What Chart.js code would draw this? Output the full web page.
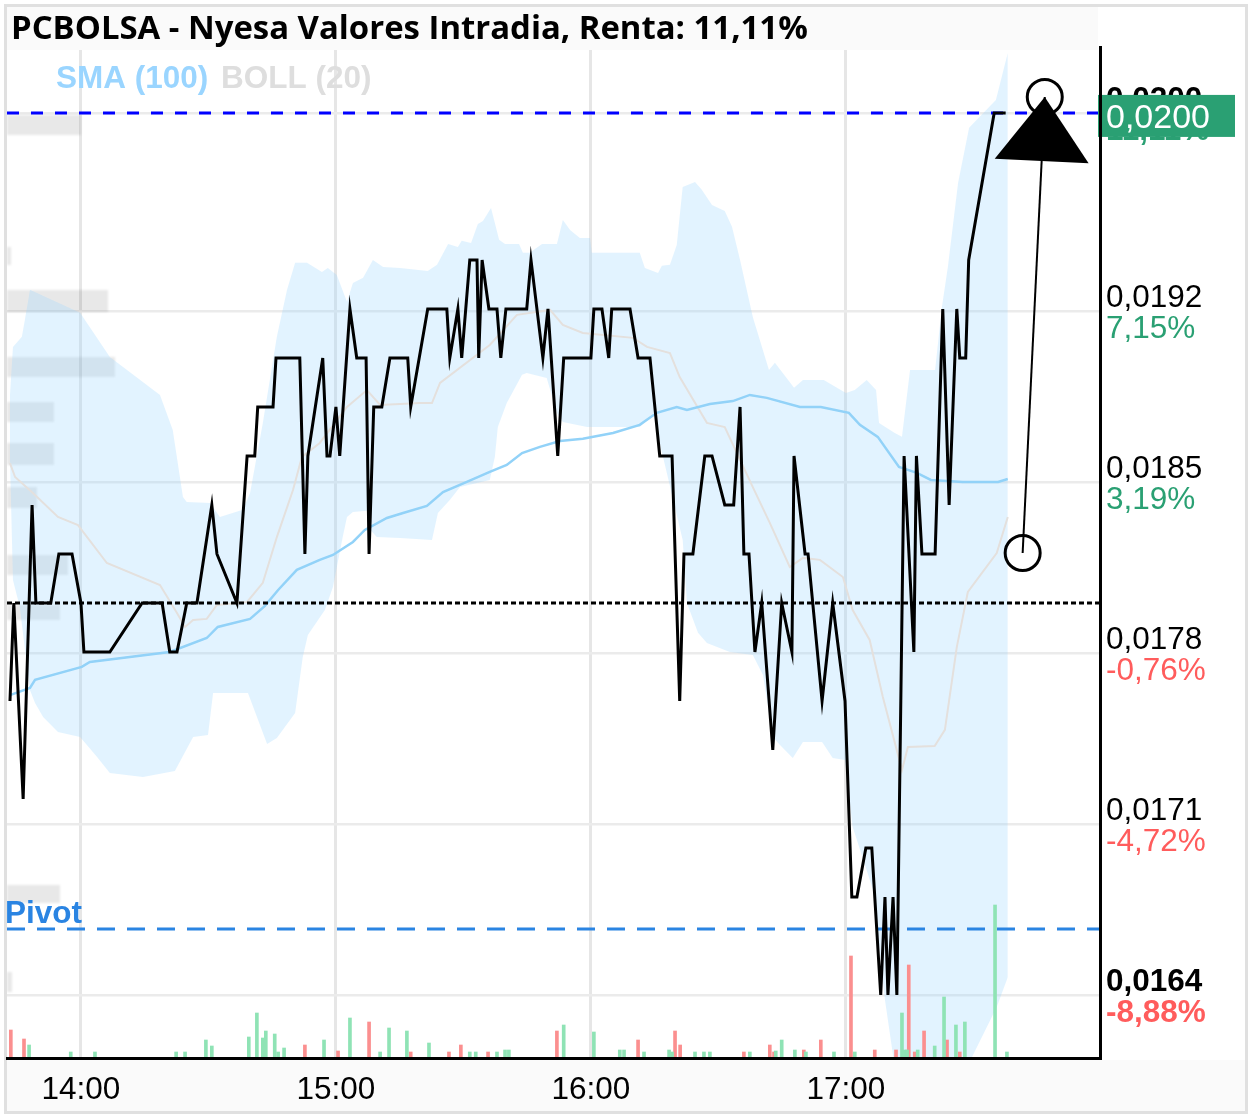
<!DOCTYPE html>
<html>
<head>
<meta charset="utf-8">
<title>PCBOLSA</title>
<script src="https://cdn.jsdelivr.net/npm/chart.js@4/dist/chart.umd.js"></script>
<style>
  body { margin: 0; background: #fff; }
  canvas { display: block; }
</style>
</head>
<body>
<canvas id="my-chart" width="1253" height="1118"></canvas>
<script>
// times are minutes after midnight (840 = 14:00)
const priceTimes = [823.3,824.2,826.4,828.5,829.4,832.9,834.8,837.9,840,840.7,846.8,854.4,859.1,860.9,862.6,864.9,867.3,870.8,872,876.7,879.1,880.9,881.6,885.2,885.9,891.5,892.7,893.4,896.9,897.9,898.6,900,900.9,903.3,904.9,907.1,907.8,908.9,910.8,912.7,916.9,917.6,921.6,926.1,926.8,928.7,929.6,931.5,933.2,933.6,934.4,936,937.9,938.8,940,944.9,945.9,948.7,949.9,952.2,953.6,960,960.7,962.6,964.2,964.9,969.2,971.1,973.9,976.2,979.1,980.9,981.9,984,986.8,988.5,991.5,993.6,995.1,996,997.2,998.6,1000.2,1002.8,1004.9,1007.3,1007.8,1010.4,1011.1,1014.4,1016.9,1019.8,1021.4,1022.6,1024.7,1026.1,1028.2,1029.2,1029.9,1031.1,1032,1033.7,1036,1036.6,1037.9,1041,1042.8,1044.3,1046.1,1046.8,1048.2,1048.9,1054.9,1057.6];
const prices = [.0176,.018,.0172,.0184,.018,.018,.0182,.0182,.018,.0178,.0178,.018,.018,.0178,.0178,.018,.018,.0184,.0182,.018,.0186,.0186,.0188,.0188,.019,.019,.0182,.0186,.019,.0186,.0186,.0188,.0186,.0192,.019,.019,.0182,.0188,.0188,.019,.019,.0188,.0192,.0192,.019,.0192,.019,.0194,.0194,.019,.0194,.0192,.0192,.019,.0192,.0192,.0194,.019,.0192,.0186,.019,.019,.0192,.0192,.019,.0192,.0192,.019,.019,.0186,.0186,.0176,.0182,.0182,.0186,.0186,.0184,.0184,.0188,.0182,.0182,.0178,.018,.0174,.018,.0178,.0186,.0182,.0182,.0176,.018,.0176,.0168,.0168,.017,.017,.0164,.0168,.0164,.0168,.0164,.0186,.0178,.0186,.0182,.0182,.0192,.0184,.0192,.019,.019,.0194,.02,.02];

const smaTimes = [823.3,828,829.2,840.2,842.1,860.9,869.6,872.2,879.8,883.3,886.4,890.8,896.2,899.3,904,906.8,912,915.8,921.4,925.2,930.8,936.2,940.2,943.8,948,952.7,958.1,965.2,971.5,975.5,980.2,982.6,988,993.4,997.4,1001.4,1009.2,1014.1,1020.7,1023.3,1027.5,1032.5,1036.7,1040,1047.5,1055.8,1058.1];
const smaValues = [.017624,.017653,.017686,.017739,.017759,.0178,.017857,.017902,.017935,.017988,.018053,.018135,.018176,.018196,.018249,.018298,.018347,.018367,.018396,.018453,.018494,.018535,.018563,.018612,.018637,.018661,.01867,.018694,.018727,.018776,.0188,.018788,.018812,.018824,.018849,.018837,.0188,.0188,.018776,.018727,.018678,.018555,.018531,.018502,.018494,.018494,.018506];

const bollTimes = [823.3,824.5,828.7,834.6,839.3,846.1,858.6,862.6,864.5,866.4,869.6,872,879.1,882.8,886.1,889.9,892,896.2,902.6,907.3,910.4,919.8,922.6,924.5,936.2,942.6,950.4,953.4,958.1,969.9,973.2,978.6,980.9,987.3,991.5,998.1,1002.1,1006.8,1009.9,1013.9,1019.3,1021.6,1025.6,1028.7,1033.2,1034.6,1040.9,1043.3,1046.1,1048.7,1055.5,1058.1];
const bollMid = [.018571,.018514,.018449,.018351,.018318,.018163,.018073,.017959,.017902,.017931,.017935,.017992,.018004,.018082,.018269,.018461,.018596,.018653,.0188,.018869,.018808,.018816,.018816,.018898,.019053,.019176,.019196,.019135,.019102,.019082,.019045,.01902,.018922,.018735,.018718,.018473,.018327,.018147,.018184,.018176,.018106,.017971,.017849,.017616,.017318,.017412,.017416,.017482,.01782,.018045,.018204,.018351];

const upperTimes = [823.3,824,826.1,826.8,828,839.8,846.8,858.6,861.6,864,864.9,870.4,872.7,878.1,879.8,882.8,886.1,888.5,890.4,893.2,896.7,898.1,900.2,902.6,904,906.4,908.7,911.1,915.1,921.6,923.8,926.4,928.7,929.6,931.8,933.4,934.6,936.5,937.4,938.4,939.8,943.1,944,945.6,948.5,952,953.4,955.1,957.4,959.8,960.2,971.5,972.7,975.8,976.7,978.6,980.2,981.6,984.5,986.1,988.5,991.5,993.2,995.1,998.1,1001.9,1003.3,1007.8,1009.9,1014.8,1020,1022.1,1024.9,1027.1,1027.8,1031.5,1033.2,1035.1,1041,1042.6,1044,1046.4,1049,1055.3,1058.1];
const upperBand = [.018849,.019045,.019086,.019155,.019278,.019184,.019004,.018849,.018706,.018433,.018412,.018408,.018351,.01838,.018449,.018735,.019086,.019278,.019388,.019388,.019351,.019367,.019339,.019229,.019306,.019327,.0194,.019371,.019367,.019355,.01938,.019465,.019453,.019478,.019469,.019547,.019559,.019612,.019551,.019482,.019465,.019465,.019429,.019429,.019465,.019465,.019563,.019522,.01949,.01949,.019429,.019429,.019367,.019347,.019376,.01938,.019461,.019698,.019718,.019686,.019624,.0196,.019535,.0194,.019167,.018951,.01898,.018878,.01891,.01891,.018857,.018869,.01891,.018869,.018735,.018694,.018678,.018951,.018951,.019208,.019371,.019714,.019939,.020053,.020245];

const lowerTimes = [823.3,824,825.6,828,829.2,831.1,834.6,839.8,843.8,846.8,854.6,862.1,866.4,869.9,871.1,879.3,883.8,886.1,890.4,892.2,893.4,897.4,899.3,901.6,902.6,904,907.3,907.5,909.6,915.1,922.6,924,926.8,929.2,936.2,937.4,938.1,940.2,943.8,944.9,949.6,952,953.4,959.1,971.5,975.5,976.2,981.6,982.6,985.2,987.3,992.7,998.1,1000.5,1002.8,1004.5,1007.5,1009.9,1014.4,1016.9,1019.8,1021.6,1026.4,1029.2,1031.3,1049.2,1055.5,1058.1];
const lowerBand = [.018584,.018094,.017984,.017645,.017592,.017535,.017473,.017453,.017371,.017306,.01729,.017314,.017453,.017461,.017633,.017633,.017424,.017449,.017551,.01778,.017869,.017971,.018065,.018269,.018351,.018371,.018376,.01831,.018269,.018265,.018257,.018367,.01842,.018473,.018502,.018596,.018718,.018816,.018931,.018939,.018918,.018776,.018739,.018718,.018718,.018788,.018653,.018257,.018,.017878,.017837,.0178,.017788,.017706,.017453,.01742,.017367,.017433,.017433,.017367,.017359,.017086,.016829,.01638,.01613,.01613,.016351,.016473];

const volUpTimes = [827.8,837.6,843.3,862.4,864.5,869.4,870.8,879.5,881.4,882.8,883.5,885.6,886.4,887.8,897.2,903.3,910.4,912.5,916.7,921.9,931.5,932.9,937.9,939.8,940.7,953.6,960.7,966.8,967.8,972.5,978.4,979.1,984.5,986.6,988,997.4,1003.5,1004.9,1008,1010.6,1017.2,1022.1,1033.2,1033.9,1034.4,1036.9,1040.9,1043.1,1045.9,1048,1055.1,1057.9];
const volUp = [13,6,6,6,6,18,12,21,45,20,27,24,6,10,18,40,6,30,27,15,6,6,6,8,8,33,26,8,8,6,8,6,6,6,6,6,7,18,8,6,6,6,45,8,8,8,12,61,33,36,153,6];
const volDownTimes = [823.5,826.6,892.7,900.5,907.8,917.6,926.6,929.4,935.8,952,971.1,979.8,981,996,1002.1,1003.1,1010.1,1014.1,1021.2,1026.8,1031.8,1034.8,1036.2,1038.4,1043.8,1046.8];
const volDown = [28,19,13,7,36,6,6,13,6,27,18,27,13,6,13,6,8,18,102,8,8,93,6,27,18,6];

const xTicks = [840, 900, 960, 1020];
const yTicks = [.0164, .017098, .017796, .018494, .019192, .02];
const yLabels = ['0,0164', '0,0171', '0,0178', '0,0185', '0,0192', '0,0200'];
const pctLabels = ['-8,88%', '-4,72%', '-0,76%', '3,19%', '7,15%', '11,11%'];

const lastPrice = .02;
const prevClose = .018;
const pivot = .016669;
const arrowTimes = [1061.6, 1066.8];
const arrowPrices = [.018204, .020065];

const xMin = 822.6, xMax = 1079.8;
const yMin = .016143, yMax = .020269;
const green = '#2aa073', red = '#ff5c5c';
const sans = '"Liberation Sans", Arial, sans-serif';

const pts = (ts, vs) => ts.map((t, i) => ({ x: t, y: vs[i] }));
const hline = v => [{ x: xMin, y: v }, { x: xMax, y: v }];
const lineSet = (data, color, width, order, extra) => Object.assign({
  type: 'line', data, borderColor: color, borderWidth: width, pointRadius: 0, order, fill: false
}, extra);

// smudges on the left edge of the original, not data
const smudges = [[7,115,74,20],[7,247,4,18],[7,290,101,22],[7,357,108,20],[7,402,47,20],[7,443,47,22],[7,487,30,21],[7,555,61,20],[7,605,53,15],[7,885,53,18],[7,972,5,20]];

const decorations = {
  id: 'decorations',
  beforeDraw(chart) {
    const c = chart.ctx;
    c.fillStyle = '#fafafa';
    c.fillRect(7, 7, 1091, 40);
    c.fillRect(7, 1060, 1239, 52);
  },
  beforeDatasetsDraw(chart) {
    const c = chart.ctx;
    c.save();
    c.filter = 'blur(1px)';
    c.fillStyle = 'rgba(0,0,0,.09)';
    smudges.forEach(r => c.fillRect(r[0], r[1], r[2], r[3]));
    c.restore();
    c.font = 'bold 31.5px ' + sans;
    c.textBaseline = 'middle';
    c.fillStyle = '#9ad5ff';
    c.fillText('SMA (100)', 56, 79);
    c.fillStyle = '#dedede';
    c.fillText('BOLL (20)', 221, 79);
  },
  afterDatasetsDraw(chart) {
    const c = chart.ctx, x = chart.scales.x, y = chart.scales.y;
    c.save();
    // rest of the title band, over the grid, and outer frame
    c.fillStyle = '#fafafa';
    c.fillRect(7, 47, 1091, 3);
    c.strokeStyle = '#e0e0e0';
    c.lineWidth = 3;
    c.strokeRect(5.5, 5.5, 1241, 1107);
    // pivot label
    c.font = 'bold 31.5px ' + sans;
    c.textBaseline = 'middle';
    c.fillStyle = '#2a84e2';
    c.fillText('Pivot', 5, y.getPixelForValue(pivot) - 15);
    // arrow head, pointing along the arrow line
    const x0 = x.getPixelForValue(arrowTimes[0]), y0 = y.getPixelForValue(arrowPrices[0]);
    const x1 = x.getPixelForValue(arrowTimes[1]), y1 = y.getPixelForValue(arrowPrices[1]);
    const a = Math.atan2(y1 - y0, x1 - x0);
    const bx = x1 - Math.cos(a) * 64, by = y1 - Math.sin(a) * 64;
    const nx = -Math.sin(a) * 47, ny = Math.cos(a) * 47;
    c.fillStyle = '#000';
    c.beginPath();
    c.moveTo(x1, y1);
    c.lineTo(bx + nx, by + ny);
    c.lineTo(bx - nx, by - ny);
    c.closePath();
    c.fill();
    // last price flag
    const py = y.getPixelForValue(lastPrice);
    c.fillStyle = green;
    c.fillRect(1098, py - 18, 137, 42);
    c.font = '34px ' + sans;
    c.fillStyle = '#fff';
    c.fillText('0,0200', 1106, py + 6);
    c.restore();
  },
  afterLayout(chart) {
    chart.titleBlock.left = 11;
    // twin axis has no width of its own, its labels are clipped to this
    chart.scales.y2.right = 1253;
  }
};

const ctx = document.getElementById('my-chart').getContext('2d');
const chart = new Chart(ctx, {
  type: 'line',
  data: {
    datasets: [
      lineSet(pts(upperTimes, upperBand), 'transparent', 0, 9, { fill: '+1', backgroundColor: 'rgba(150,212,255,.28)' }),
      lineSet(pts(lowerTimes, lowerBand), 'transparent', 0, 9),
      lineSet(pts(bollTimes, bollMid), '#e4e0dd', 2, 8),
      { type: 'bar', data: pts(volUpTimes, volUp), yAxisID: 'yVol', backgroundColor: '#8fe3b5', barThickness: 3, grouped: false, order: 7 },
      { type: 'bar', data: pts(volDownTimes, volDown), yAxisID: 'yVol', backgroundColor: '#fb8f8f', barThickness: 3, grouped: false, order: 7 },
      lineSet(pts(smaTimes, smaValues), '#92d2f8', 2.5, 6),
      lineSet(hline(pivot), '#2a84e2', 3, 5, { borderDash: [18, 12] }),
      lineSet(hline(lastPrice), '#0000ff', 3, 5, { borderDash: [12, 12] }),
      lineSet(hline(prevClose), '#000', 3, 5, { borderDash: [5, 3] }),
      lineSet(pts(priceTimes, prices), '#000', 3, 4),
      lineSet(pts(arrowTimes, arrowPrices), '#000', 2, 1, {
        pointRadius: 17.5, pointBorderWidth: 3, pointBorderColor: '#000', pointBackgroundColor: 'transparent'
      })
    ]
  },
  plugins: [decorations],
  options: {
    responsive: false,
    devicePixelRatio: 1,
    animation: false,
    events: [],
    layout: { padding: { left: 7, top: 0, right: 0, bottom: 0 }, autoPadding: false },
    plugins: {
      legend: { display: false },
      tooltip: { enabled: false },
      title: {
        display: true,
        text: 'PCBOLSA - Nyesa Valores Intradia, Renta: 11,11%',
        align: 'start',
        color: '#000',
        padding: { top: 13, bottom: 0 },
        font: { family: '"Open Sans"', size: 32.9, weight: '700', lineHeight: '34px' }
      }
    },
    scales: {
      x: {
        type: 'linear',
        min: xMin,
        max: xMax,
        offset: false,
        afterBuildTicks: s => { s.ticks = xTicks.map(v => ({ value: v })); },
        afterFit: s => { s.height = 60; },
        grid: { offset: false, color: '#e6e6e6', lineWidth: 3, drawTicks: false },
        border: { color: '#000', width: 3, z: 1 },
        ticks: {
          autoSkip: false,
          maxRotation: 0,
          padding: 13,
          color: '#000',
          font: { family: sans, size: 31.5 },
          callback: v => Math.floor(v / 60) + ':00'
        }
      },
      y: {
        position: 'right',
        weight: 1,
        min: yMin,
        max: yMax,
        afterBuildTicks: s => { s.ticks = yTicks.map(v => ({ value: v })); },
        afterFit: s => { s.width = 153; },
        grid: { color: '#ebebeb', lineWidth: 2.5, drawTicks: false },
        border: { color: '#000', width: 3, z: 1 },
        ticks: {
          autoSkip: false,
          padding: 6,
          labelOffset: 3,
          color: '#000',
          font: c => ({ family: sans, size: 31.5, lineHeight: '31px',
            weight: (c.index === 0 || c.index === 5) ? 'bold' : 'normal' }),
          callback: (v, i) => [yLabels[i], '']
        }
      },
      // percent under each price, on a twin axis so it can have its own colour
      y2: {
        position: 'right',
        weight: 0,
        min: yMin,
        max: yMax,
        afterBuildTicks: s => { s.ticks = yTicks.map(v => ({ value: v })); },
        afterFit: s => { s.width = 0; },
        grid: { display: false, drawTicks: false },
        border: { display: false },
        ticks: {
          autoSkip: false,
          padding: 6,
          labelOffset: 3,
          color: c => c.index < 3 ? red : green,
          font: c => ({ family: sans, size: 31.5, lineHeight: '31px',
            weight: (c.index === 0 || c.index === 5) ? 'bold' : 'normal' }),
          callback: (v, i) => ['', pctLabels[i]]
        }
      },
      yVol: { display: false, min: 0, max: 1011 }
    }
  }
});
</script>
</body>
</html>
